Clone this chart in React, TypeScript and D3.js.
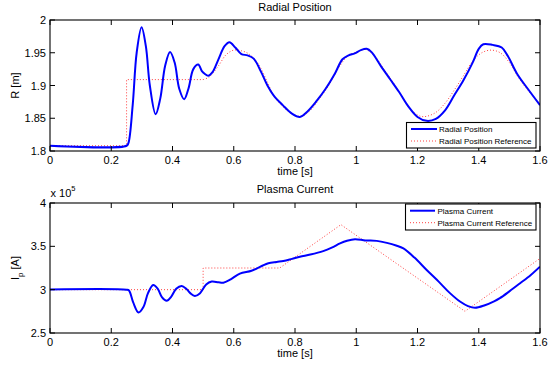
import React from "react";
import * as d3 from "d3";

// ---------- data ----------
const xTicks = [0, 0.2, 0.4, 0.6, 0.8, 1, 1.2, 1.4, 1.6];
const rTicks = [1.8, 1.85, 1.9, 1.95, 2];
const ipTicks = [2.5, 3, 3.5, 4];

const radialT = [0, 0.25, 0.256, 0.27, 0.283, 0.299, 0.313, 0.326, 0.345, 0.36, 0.376, 0.392, 0.407, 0.422, 0.438, 0.452, 0.468, 0.484, 0.496, 0.505, 0.517, 0.53, 0.55, 0.57, 0.586, 0.605, 0.625, 0.645, 0.665, 0.69, 0.71, 0.73, 0.76, 0.79, 0.816, 0.84, 0.87, 0.9, 0.93, 0.955, 0.975, 0.995, 1.015, 1.034, 1.05, 1.08, 1.11, 1.14, 1.17, 1.2, 1.23, 1.26, 1.29, 1.32, 1.35, 1.38, 1.4, 1.415, 1.445, 1.475, 1.495, 1.525, 1.56, 1.6];
const radialR = [1.808, 1.808, 1.812, 1.87, 1.95, 1.989, 1.96, 1.9, 1.856, 1.88, 1.93, 1.951, 1.935, 1.895, 1.879, 1.895, 1.925, 1.932, 1.922, 1.918, 1.915, 1.92, 1.94, 1.96, 1.966, 1.958, 1.948, 1.946, 1.941, 1.92, 1.9, 1.885, 1.87, 1.857, 1.852, 1.86, 1.876, 1.895, 1.918, 1.94, 1.946, 1.949, 1.954, 1.956, 1.951, 1.93, 1.91, 1.89, 1.868, 1.852, 1.846, 1.849, 1.862, 1.885, 1.908, 1.935, 1.956, 1.963, 1.962, 1.958, 1.945, 1.918, 1.895, 1.87];

const radialRefStepT = [0, 0.25, 0.25, 0.5];
const radialRefStepR = [1.808, 1.808, 1.909, 1.909];
const radialRefT = [0.5, 0.52, 0.55, 0.575, 0.6, 0.625, 0.65, 0.68, 0.71, 0.73, 0.76, 0.79, 0.82, 0.85, 0.88, 0.91, 0.94, 0.97, 1.0, 1.03, 1.06, 1.09, 1.12, 1.15, 1.18, 1.21, 1.23, 1.26, 1.29, 1.32, 1.35, 1.38, 1.41, 1.44, 1.47, 1.5, 1.53, 1.56, 1.6];
const radialRefR = [1.909, 1.913, 1.93, 1.947, 1.954, 1.953, 1.948, 1.933, 1.905, 1.885, 1.868, 1.857, 1.853, 1.862, 1.88, 1.9, 1.925, 1.944, 1.951, 1.955, 1.945, 1.925, 1.905, 1.882, 1.862, 1.853, 1.853, 1.859, 1.873, 1.893, 1.915, 1.937, 1.95, 1.954, 1.95, 1.935, 1.912, 1.893, 1.872];

// plasma current in units of 1e5 A
const ipT = [0, 0.25, 0.258, 0.272, 0.289, 0.305, 0.32, 0.337, 0.352, 0.366, 0.381, 0.396, 0.412, 0.43, 0.445, 0.458, 0.473, 0.49, 0.51, 0.528, 0.55, 0.566, 0.59, 0.62, 0.658, 0.69, 0.713, 0.74, 0.762, 0.79, 0.816, 0.85, 0.892, 0.92, 0.947, 0.97, 0.996, 1.03, 1.067, 1.1, 1.13, 1.154, 1.19, 1.23, 1.27, 1.306, 1.34, 1.365, 1.388, 1.42, 1.45, 1.469, 1.5, 1.535, 1.57, 1.6];
const ipV = [3.003, 3.0, 2.99, 2.85, 2.737, 2.8, 2.96, 3.055, 3.01, 2.91, 2.871, 2.92, 3.01, 3.043, 3.01, 2.96, 2.928, 2.96, 3.06, 3.093, 3.085, 3.081, 3.12, 3.185, 3.219, 3.27, 3.305, 3.32, 3.33, 3.355, 3.38, 3.405, 3.445, 3.485, 3.534, 3.565, 3.583, 3.568, 3.563, 3.54, 3.51, 3.476, 3.37, 3.227, 3.09, 2.96, 2.86, 2.81, 2.79, 2.82, 2.865, 2.902, 2.98, 3.074, 3.17, 3.265];

const ipRefT = [0, 0.5, 0.5, 0.75, 0.95, 1.355, 1.6];
const ipRefV = [3.0, 3.0, 3.25, 3.25, 3.75, 2.75, 3.36];

// ---------- layout ----------
const W = 548;
const H = 368;
const L = 50;
const R = 540;
const top1 = 20, bot1 = 151;
const top2 = 203, bot2 = 333;
const FONT = "'Liberation Sans', Arial, Helvetica, sans-serif";
const BLUE = "#0000ff";
const RED = "#ff4040";

type P = [number, number];
const zip = (a: number[], b: number[]): P[] => a.map((v, i) => [v, b[i]]);

const x = d3.scaleLinear().domain([0, 1.6]).range([L, R]);
const y1 = d3.scaleLinear().domain([1.8, 2]).range([bot1, top1]);
const y2 = d3.scaleLinear().domain([2.5, 4]).range([bot2, top2]);

function Axes({ y, yTicks, top, bot, fmt }: { y: d3.ScaleLinear<number, number>; yTicks: number[]; top: number; bot: number; fmt: (v: number) => string }) {
  const tl = 5;
  return (
    <g fontFamily={FONT} fontSize={11} fill="#000">
      {xTicks.map((t) => (
        <g key={"x" + t}>
          <line x1={x(t)} x2={x(t)} y1={bot} y2={bot - tl} stroke="#000" />
          <line x1={x(t)} x2={x(t)} y1={top} y2={top + tl} stroke="#000" />
          <text x={x(t)} y={bot + 13} textAnchor="middle">{String(t)}</text>
        </g>
      ))}
      {yTicks.map((t) => (
        <g key={"y" + t}>
          <line x1={L} x2={L + tl} y1={y(t)} y2={y(t)} stroke="#000" />
          <line x1={R} x2={R - tl} y1={y(t)} y2={y(t)} stroke="#000" />
          <text x={L - 4} y={y(t) + 4} textAnchor="end">{fmt(t)}</text>
        </g>
      ))}
      <rect x={L} y={top} width={R - L} height={bot - top} fill="none" stroke="#000" strokeWidth={1.1} />
      <text x={(L + R) / 2} y={bot + 23.5} textAnchor="middle">time [s]</text>
    </g>
  );
}

export default function App() {
  const lineCR = d3.line<P>().x((d) => x(d[0])).y((d) => d[1]).curve(d3.curveCatmullRom.alpha(0.5));
  const lineLin = d3.line<P>().x((d) => x(d[0])).y((d) => d[1]);

  const r1 = zip(radialT, radialR).map((d) => [d[0], y1(d[1])] as P);
  const r1refStep = zip(radialRefStepT, radialRefStepR).map((d) => [d[0], y1(d[1])] as P);
  const r1ref = zip(radialRefT, radialRefR).map((d) => [d[0], y1(d[1])] as P);
  const i2 = zip(ipT, ipV).map((d) => [d[0], y2(d[1])] as P);
  const i2ref = zip(ipRefT, ipRefV).map((d) => [d[0], y2(d[1])] as P);

  const fmtR = (v: number) => (v === 2 ? "2" : v === 1.9 ? "1.9" : v === 1.8 ? "1.8" : String(v));
  const fmtI = (v: number) => String(v);

  return (
    <svg width={W} height={H} style={{ position: "absolute", left: 0, top: 0, background: "#fff" }}>
      <rect width={W} height={H} fill="#fff" />
      {/* ---------- top plot ---------- */}
      <defs>
        <clipPath id="c1"><rect x={L} y={top1} width={R - L} height={bot1 - top1} /></clipPath>
        <clipPath id="c2"><rect x={L} y={top2} width={R - L} height={bot2 - top2} /></clipPath>
      </defs>
      <g clipPath="url(#c1)">
        <path d={lineLin(r1refStep) || ""} fill="none" stroke={RED} strokeWidth={1} strokeDasharray="1,2" />
        <path d={lineCR(r1ref) || ""} fill="none" stroke={RED} strokeWidth={1} strokeDasharray="1,2" />
        <path d={lineCR(r1) || ""} fill="none" stroke={BLUE} strokeWidth={2} />
      </g>
      <Axes y={y1} yTicks={rTicks} top={top1} bot={bot1} fmt={fmtR} />
      <text x={(L + R) / 2} y={10.5} textAnchor="middle" fontFamily={FONT} fontSize={11}>Radial Position</text>
      <text transform={`translate(19,${(top1 + bot1) / 2}) rotate(-90)`} textAnchor="middle" fontFamily={FONT} fontSize={11}>R [m]</text>
      {/* legend top */}
      <g fontFamily={FONT} fontSize={8}>
        <rect x={406.5} y={122.5} width={129.5} height={25.5} fill="#fff" stroke="#000" strokeWidth={1.1} />
        <line x1={411} x2={437} y1={129} y2={129} stroke={BLUE} strokeWidth={2} />
        <text x={439} y={132}>Radial Position</text>
        <line x1={411} x2={437} y1={141} y2={141} stroke={RED} strokeWidth={1} strokeDasharray="1,2" />
        <text x={439} y={144}>Radial Position Reference</text>
      </g>

      {/* ---------- bottom plot ---------- */}
      <g clipPath="url(#c2)">
        <path d={lineLin(i2ref) || ""} fill="none" stroke={RED} strokeWidth={1} strokeDasharray="1,2" />
        <path d={lineCR(i2) || ""} fill="none" stroke={BLUE} strokeWidth={2} />
      </g>
      <Axes y={y2} yTicks={ipTicks} top={top2} bot={bot2} fmt={fmtI} />
      <text x={(L + R) / 2} y={192.5} textAnchor="middle" fontFamily={FONT} fontSize={11}>Plasma Current</text>
      <text x={50.5} y={197} fontFamily={FONT} fontSize={11}>
        x 10<tspan fontSize={7.5} dy={-6}>5</tspan>
      </text>
      <text transform={`translate(19,${(top2 + bot2) / 2}) rotate(-90)`} textAnchor="middle" fontFamily={FONT} fontSize={11}>
        I<tspan fontSize={8} dy={4}>p</tspan><tspan dy={-4}> [A]</tspan>
      </text>
      {/* legend bottom */}
      <g fontFamily={FONT} fontSize={8}>
        <rect x={405.5} y={204} width={130.5} height={26} fill="#fff" stroke="#000" strokeWidth={1.1} />
        <line x1={410} x2={435} y1={210.7} y2={210.7} stroke={BLUE} strokeWidth={2} />
        <text x={437.5} y={214}>Plasma Current</text>
        <line x1={410} x2={435} y1={222.7} y2={222.7} stroke={RED} strokeWidth={1} strokeDasharray="1,2" />
        <text x={437.5} y={226}>Plasma Current Reference</text>
      </g>
    </svg>
  );
}
